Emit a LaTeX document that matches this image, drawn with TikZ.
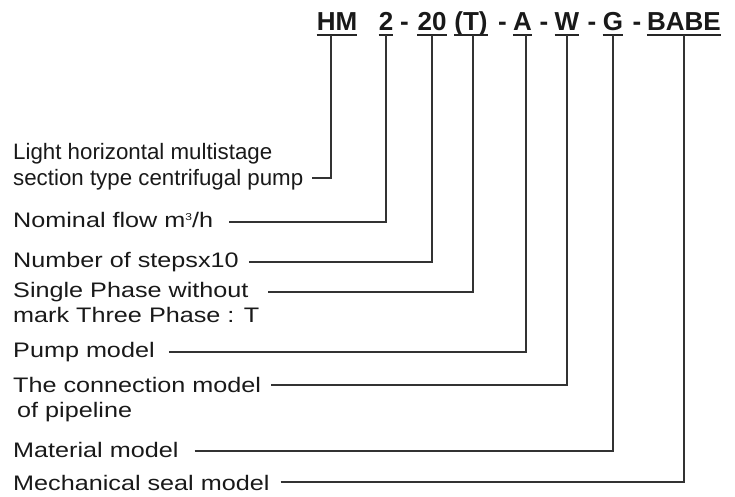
\documentclass[tikz,border=0pt]{standalone}
\usepackage{fontspec}
\setmainfont{Liberation Sans}
\newfontfamily\lblfont{Liberation Sans}[FakeStretch=1.2]
\usetikzlibrary{calc}

\begin{document}
\begin{tikzpicture}[x=1pt,y=-1pt,
  code/.style={font=\fontsize{26}{30}\selectfont\bfseries,inner sep=0pt,anchor=base,text=black!90},
  lbl/.style={font=\lblfont\fontsize{21}{25}\selectfont,inner sep=0pt,anchor=base west,align=left,text=black!90},
  plainlbl/.style={lbl,font=\fontsize{22.3}{25}\selectfont},
  link/.style={line width=1.3pt,draw=black!80},
  uline/.style={line width=2pt,draw=black!85}]
\useasboundingbox (0,0) rectangle (735,497);

% type code
\node[code] (hm) at (337,30.5) {HM};
\node[code] (flow) at (386,30.5) {2};
\node[code] (d1) at (404.5,30.5) {-};
\node[code] (steps) at (432,30.5) {20};
\node[code] (phase) at (471,30.5) {(T)};
\node[code] (d2) at (502.5,30.5) {-};
\node[code] (model) at (522.5,30.5) {A};
\node[code] (d3) at (544,30.5) {-};
\node[code] (conn) at (567,30.5) {W};
\node[code] (d4) at (592,30.5) {-};
\node[code] (mat) at (613,30.5) {G};
\node[code] (d5) at (637,30.5) {-};
\node[code] (seal) at (684,30.5) {BABE};
\foreach \c in {hm,flow,steps,phase,model,conn,mat,seal}{
  \draw[uline] ($(\c.base west)+(0,4.5)$) -- ($(\c.base east)+(0,4.5)$);
  \coordinate (\c-u) at ($(\c.base)+(0,4.5)$);
}

% labels (multi-line ones sit on their last baseline)
\node[plainlbl] (light) at (13,185) {Light horizontal multistage\\section type centrifugal pump};
\node[lbl] (nominal) at (13,227) {Nominal flow m\raisebox{7pt}{\fontsize{10}{10}\selectfont 3}/h};
\node[lbl] (number) at (13,267) {Number of stepsx10};
\node[lbl] (single) at (13,322) {Single Phase without\\mark Three Phase : T};
\node[lbl] (pump) at (13,357) {Pump model};
\node[lbl] (connect) at (13,417) {The connection model\\\hspace{4pt}of pipeline};
\node[lbl] (material) at (13,457) {Material model};
\node[lbl] (mechanical) at (13,490) {Mechanical seal model};

% leaders
\draw[link] ($(light.base east)+(9,-7)$) -| ([xshift=-6pt]hm-u);
\draw[link] ($(nominal.base east)+(16,-5)$) -| (flow-u);
\draw[link] ($(number.base east)+(10,-5)$) -| (steps-u);
\draw[link] ($(single.base east)+(9,-30)$) -| ([xshift=2pt]phase-u);
\draw[link] ($(pump.base east)+(14,-5)$) -| ([xshift=3.5pt]model-u);
\draw[link] ($(connect.base east)+(10,-32)$) -| (conn-u);
\draw[link] ($(material.base east)+(16,-6)$) -| (mat-u);
\draw[link] ($(mechanical.base east)+(11,-8)$) -| (seal-u);
\end{tikzpicture}
\end{document}
